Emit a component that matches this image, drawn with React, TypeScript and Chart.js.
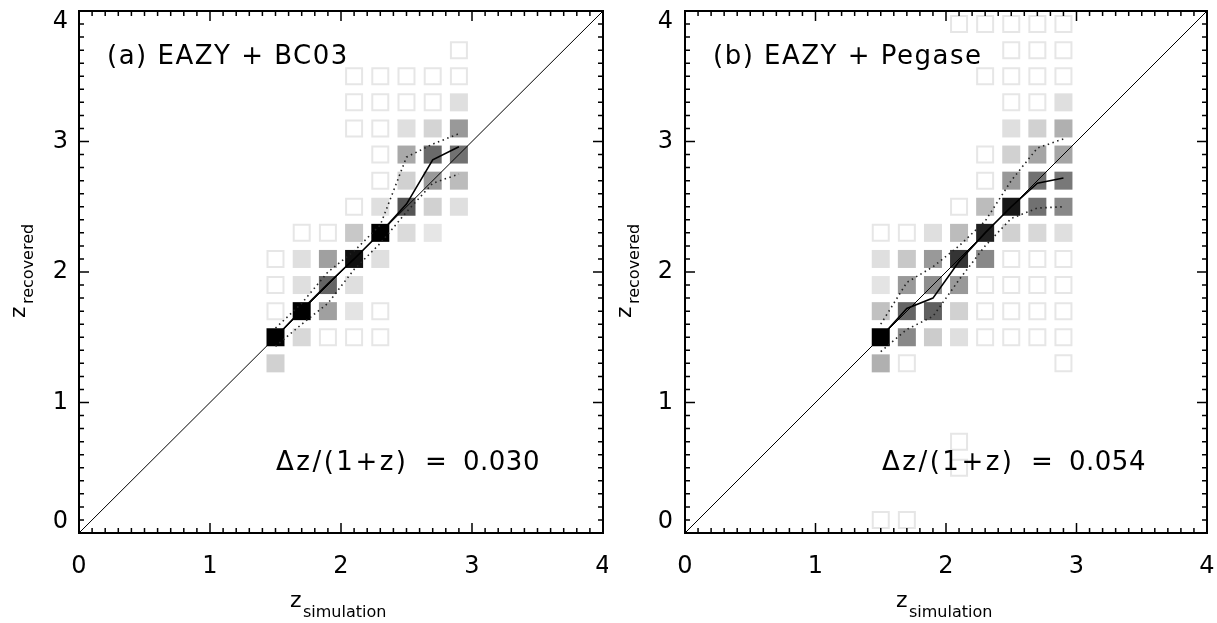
import React, { useEffect, useRef } from 'react';
import { Chart, registerables } from 'chart.js';

Chart.register(...registerables);

// ---------- data ----------
const axisTicks = [0, 1, 2, 3, 4];
const columnCenters = [1.5, 1.7, 1.9, 2.1, 2.3, 2.5, 2.7, 2.9];

// cells: [z_simulation bin, z_recovered bin, relative density (0 = empty bin outline)]
const cellsBC03: [number, number, number][] = [
  [2.9, 3.7, 0],
  [2.1, 3.5, 0], [2.3, 3.5, 0], [2.5, 3.5, 0], [2.7, 3.5, 0], [2.9, 3.5, 0],
  [2.1, 3.3, 0], [2.3, 3.3, 0], [2.5, 3.3, 0], [2.7, 3.3, 0], [2.9, 3.3, 0.05],
  [2.1, 3.1, 0], [2.3, 3.1, 0], [2.5, 3.1, 0.05], [2.7, 3.1, 0.1], [2.9, 3.1, 0.35],
  [2.3, 2.9, 0], [2.5, 2.9, 0.28], [2.7, 2.9, 0.55], [2.9, 2.9, 0.52],
  [2.3, 2.7, 0], [2.5, 2.7, 0.11], [2.7, 2.7, 0.35], [2.9, 2.7, 0.2],
  [2.1, 2.5, 0], [2.3, 2.5, 0.05], [2.5, 2.5, 0.64], [2.7, 2.5, 0.11], [2.9, 2.5, 0.05],
  [1.7, 2.3, 0], [1.9, 2.3, 0], [2.1, 2.3, 0.15], [2.3, 2.3, 1], [2.5, 2.3, 0.07], [2.7, 2.3, 0.02],
  [1.5, 2.1, 0], [1.7, 2.1, 0.05], [1.9, 2.1, 0.32], [2.1, 2.1, 0.93], [2.3, 2.1, 0.05],
  [1.5, 1.9, 0], [1.7, 1.9, 0.05], [1.9, 1.9, 0.57], [2.1, 1.9, 0.05],
  [1.5, 1.7, 0], [1.7, 1.7, 1], [1.9, 1.7, 0.32], [2.1, 1.7, 0.03], [2.3, 1.7, 0],
  [1.5, 1.5, 1], [1.7, 1.5, 0.08], [1.9, 1.5, 0], [2.1, 1.5, 0], [2.3, 1.5, 0],
  [1.5, 1.3, 0.11],
];

const cellsPegase: [number, number, number][] = [
  [2.1, 3.9, 0], [2.3, 3.9, 0], [2.5, 3.9, 0], [2.7, 3.9, 0], [2.9, 3.9, 0],
  [2.5, 3.7, 0], [2.7, 3.7, 0], [2.9, 3.7, 0],
  [2.3, 3.5, 0], [2.5, 3.5, 0], [2.7, 3.5, 0], [2.9, 3.5, 0],
  [2.5, 3.3, 0], [2.7, 3.3, 0], [2.9, 3.3, 0.05],
  [2.5, 3.1, 0.05], [2.7, 3.1, 0.11], [2.9, 3.1, 0.25],
  [2.3, 2.9, 0], [2.5, 2.9, 0.11], [2.7, 2.9, 0.3], [2.9, 2.9, 0.3],
  [2.3, 2.7, 0], [2.5, 2.7, 0.35], [2.7, 2.7, 0.52], [2.9, 2.7, 0.49],
  [2.1, 2.5, 0], [2.3, 2.5, 0.2], [2.5, 2.5, 0.9], [2.7, 2.5, 0.52], [2.9, 2.5, 0.42],
  [1.5, 2.3, 0], [1.7, 2.3, 0], [1.9, 2.3, 0.05], [2.1, 2.3, 0.2], [2.3, 2.3, 0.86], [2.5, 2.3, 0.11], [2.7, 2.3, 0.08], [2.9, 2.3, 0.05],
  [1.5, 2.1, 0.05], [1.7, 2.1, 0.15], [1.9, 2.1, 0.35], [2.1, 2.1, 0.78], [2.3, 2.1, 0.42], [2.5, 2.1, 0], [2.7, 2.1, 0], [2.9, 2.1, 0],
  [1.5, 1.9, 0.03], [1.7, 1.9, 0.35], [1.9, 1.9, 0.4], [2.1, 1.9, 0.35], [2.3, 1.9, 0], [2.5, 1.9, 0], [2.7, 1.9, 0], [2.9, 1.9, 0],
  [1.5, 1.7, 0.18], [1.7, 1.7, 0.57], [1.9, 1.7, 0.59], [2.1, 1.7, 0.11], [2.3, 1.7, 0], [2.5, 1.7, 0], [2.7, 1.7, 0], [2.9, 1.7, 0],
  [1.5, 1.5, 1], [1.7, 1.5, 0.42], [1.9, 1.5, 0.13], [2.1, 1.5, 0.05], [2.3, 1.5, 0], [2.5, 1.5, 0], [2.7, 1.5, 0], [2.9, 1.5, 0],
  [1.5, 1.3, 0.25], [1.7, 1.3, 0], [2.9, 1.3, 0],
  [2.1, 0.7, 0], [2.1, 0.5, 0],
  [1.5, 0.1, 0], [1.7, 0.1, 0],
];

const medianBC03 = [1.5, 1.71, 1.91, 2.1, 2.3, 2.52, 2.86, 2.96];
const upperBC03 = [1.57, 1.76, 2.0, 2.16, 2.36, 2.88, 2.98, 3.06];
const lowerBC03 = [1.43, 1.6, 1.76, 2.02, 2.22, 2.46, 2.68, 2.75];

const medianPegase = [1.5, 1.72, 1.8, 2.08, 2.3, 2.5, 2.68, 2.72];
const upperPegase = [1.6, 1.92, 2.04, 2.2, 2.39, 2.7, 2.95, 3.02];
const lowerPegase = [1.39, 1.56, 1.66, 1.94, 2.2, 2.41, 2.49, 2.5];

const oneToOne = [0, 4];

const labelBC03 = '(a) EAZY + BC03';
const labelPegase = '(b) EAZY + Pegase';
const statBC03 = '0.030';
const statPegase = '0.054';

// ---------- helpers ----------
const FONT = "'DejaVu Sans', sans-serif";
const shade = (f: number) => {
  const g = Math.round(235 * (1 - f));
  return `rgb(${g},${g},${g})`;
};

const zeroPad = (s: any) => {
  s.paddingTop = 0;
  s.paddingBottom = 0;
  s.paddingLeft = 0;
  s.paddingRight = 0;
};

const framePlugin = {
  id: 'idlFrame',
  afterDraw(chart: any, _args: any, opts: any) {
    const { ctx, chartArea: a } = chart;
    const xs = chart.scales.x;
    const ys = chart.scales.y;
    ctx.save();
    // frame
    ctx.strokeStyle = '#000';
    ctx.lineWidth = 2;
    ctx.strokeRect(a.left, a.top, a.right - a.left, a.bottom - a.top);
    // ticks
    ctx.lineWidth = 1.5;
    ctx.beginPath();
    for (let i = 0; i <= 40; i++) {
      const v = i / 10;
      const len = i % 10 === 0 ? 10 : 5;
      const px = xs.getPixelForValue(v);
      const py = ys.getPixelForValue(v);
      ctx.moveTo(px, a.bottom); ctx.lineTo(px, a.bottom - len);
      ctx.moveTo(px, a.top); ctx.lineTo(px, a.top + len);
      ctx.moveTo(a.left, py); ctx.lineTo(a.left + len, py);
      ctx.moveTo(a.right, py); ctx.lineTo(a.right - len, py);
    }
    ctx.stroke();

    ctx.fillStyle = '#000';
    ctx.textBaseline = 'alphabetic';
    ctx.textAlign = 'left';
    // panel label
    ctx.font = `26px ${FONT}`;
    (ctx as any).letterSpacing = '1.5px';
    ctx.fillText(opts.label, a.left + 28, 64);
    // statistic
    (ctx as any).letterSpacing = '2.5px';
    ctx.fillText('Δz/(1+z)', a.left + 197, 470);
    (ctx as any).letterSpacing = '0px';
    ctx.fillText('=', a.left + 346, 470);
    (ctx as any).letterSpacing = '0.5px';
    ctx.fillText(opts.stat, a.left + 384, 470);
    (ctx as any).letterSpacing = '0px';

    // x title
    ctx.font = `22px ${FONT}`;
    ctx.fillText('z', a.left + 211, 607);
    ctx.font = `16px ${FONT}`;
    ctx.fillText('simulation', a.left + 224, 617);

    // y title (rotated)
    ctx.save();
    ctx.translate(a.left - 54, 318);
    ctx.rotate(-Math.PI / 2);
    ctx.font = `22px ${FONT}`;
    ctx.fillText('z', 0, 0);
    ctx.font = `16px ${FONT}`;
    ctx.fillText('recovered', 14, 8);
    ctx.restore();

    ctx.restore();
  },
};

type PanelProps = {
  cells: [number, number, number][];
  median: number[];
  upper: number[];
  lower: number[];
  label: string;
  stat: string;
  width: number;
  left: number;
  axisWidth: number;
  padRight: number;
  yPad: number;
};

function Panel(p: PanelProps) {
  const ref = useRef<HTMLCanvasElement | null>(null);
  useEffect(() => {
    if (!ref.current) return;
    const filled = p.cells.filter((c) => c[2] > 0);
    const empty = p.cells.filter((c) => c[2] === 0);
    const line = (vals: number[]) => columnCenters.map((x, i) => ({ x, y: vals[i] }));
    const chart = new Chart(ref.current, {
      type: 'scatter',
      data: {
        datasets: [
          {
            data: oneToOne.map((v) => ({ x: v, y: v })),
            showLine: true, borderColor: '#000', borderWidth: 1, pointRadius: 0,
          } as any,
          {
            data: line(p.median),
            showLine: true, borderColor: '#000', borderWidth: 1.6, pointRadius: 0,
          },
          {
            data: line(p.upper),
            showLine: true, borderColor: '#222', borderWidth: 1.6, borderDash: [1.5, 3.5], pointRadius: 0,
          },
          {
            data: line(p.lower),
            showLine: true, borderColor: '#222', borderWidth: 1.6, borderDash: [1.5, 3.5], pointRadius: 0,
          },
          {
            data: filled.map((c) => ({ x: c[0], y: c[1] })),
            pointStyle: 'rect',
            pointRadius: 12.73,
            backgroundColor: filled.map((c) => shade(c[2])),
            borderWidth: 0,
          },
          {
            data: empty.map((c) => ({ x: c[0], y: c[1] })),
            pointStyle: 'rect',
            pointRadius: 11.31,
            backgroundColor: 'rgba(0,0,0,0)',
            borderColor: '#e6e6e6',
            borderWidth: 2,
          },
        ],
      },
      options: {
        animation: false,
        responsive: false,
        events: [],
        layout: { autoPadding: false, padding: { top: 11, right: p.padRight, left: 0, bottom: 0 } },
        plugins: {
          legend: { display: false },
          tooltip: { enabled: false },
          idlFrame: { label: p.label, stat: p.stat },
        } as any,
        scales: {
          x: {
            type: 'linear', min: 0, max: 4,
            afterBuildTicks: (s: any) => { s.ticks = axisTicks.map((v) => ({ value: v })); },
            grid: { display: false, drawTicks: false },
            border: { display: false },
            ticks: { color: '#000', font: { family: FONT, size: 24 }, padding: 19, maxRotation: 0 },
            afterFit: (s: any) => { s.height = 90; zeroPad(s); },
          },
          y: {
            type: 'linear', min: 0, max: 4,
            afterBuildTicks: (s: any) => { s.ticks = axisTicks.map((v) => ({ value: v })); },
            grid: { display: false, drawTicks: false },
            border: { display: false },
            ticks: {
              color: '#000', font: { family: FONT, size: 24, lineHeight: 0.9 }, padding: p.yPad,
              callback: (v: any) => (v === 4 ? ['', '4'] : v === 0 ? ['0', ''] : String(v)),
            },
            afterFit: (s: any) => { s.width = p.axisWidth; zeroPad(s); },
          },
        },
      } as any,
      plugins: [framePlugin],
    });
    return () => chart.destroy();
  }, []);
  return (
    <canvas
      ref={ref}
      width={p.width}
      height={623}
      style={{ position: 'absolute', left: p.left, top: 0, display: 'block' }}
    />
  );
}

export default function App() {
  return (
    <div style={{ position: 'fixed', left: 0, top: 0, width: 1217, height: 623, background: '#fff' }}>
      <Panel
        cells={cellsBC03} median={medianBC03} upper={upperBC03} lower={lowerBC03}
        label={labelBC03} stat={statBC03}
        width={608} left={0} axisWidth={79} padRight={5} yPad={11}
      />
      <Panel
        cells={cellsPegase} median={medianPegase} upper={upperPegase} lower={lowerPegase}
        label={labelPegase} stat={statPegase}
        width={609} left={608} axisWidth={77} padRight={10} yPad={12}
      />
    </div>
  );
}
